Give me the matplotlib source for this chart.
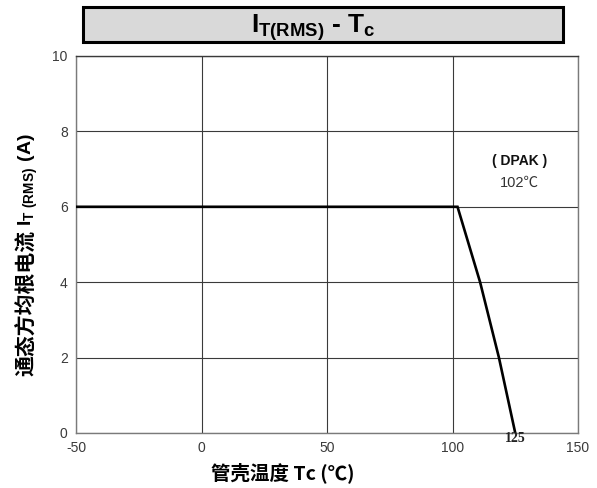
import matplotlib
matplotlib.use("Agg")
import matplotlib.pyplot as plt
from matplotlib.patches import Rectangle

plt.rcParams["mathtext.fontset"] = "custom"
plt.rcParams["mathtext.bf"] = "Liberation Sans:bold"
plt.rcParams["mathtext.rm"] = "Liberation Sans"
plt.rcParams["axes.unicode_minus"] = False
plt.rcParams["font.family"] = ["Liberation Sans", "Noto Sans CJK SC", "DejaVu Sans"]

# Derating curve: on-state RMS current vs case temperature
case_temp = [-50, 102, 111, 118.5, 125]
current_rms = [6, 6, 4, 2, 0]

x_ticks = [-50, 0, 50, 100, 150]
y_ticks = [0, 2, 4, 6, 8, 10]
package = "( DPAK )"
knee_label = "102℃"
end_label = "125"

W, H = 597, 488
fig = plt.figure(figsize=(W / 100, H / 100), dpi=100)
ax = fig.add_axes([76 / W, 1 - 433 / H, 502 / W, 377 / H])

ax.plot(case_temp, current_rms, color="black", lw=1.9, solid_joinstyle="miter", zorder=3)

ax.set_xlim(-50, 150)
ax.set_ylim(0, 10)
ax.set_xticks(x_ticks)
ax.set_yticks(y_ticks)
ax.grid(True, color="#3a3a3a", lw=0.8)
ax.tick_params(length=0, labelsize=10, labelcolor="#3a3a3a", pad=6)
for s in ax.spines.values():
    s.set_color("#7a7a7a")
    s.set_linewidth(1.0)
ax.spines["top"].set_color("#3a3a3a")

ax.text(125, 0.02, end_label, ha="center", va="top", fontsize=10,
        family="Liberation Serif", weight="bold", color="#222222")
ax.text(126.8, 7.22, package, ha="center", va="center", fontsize=10,
        weight="bold", color="#111111")
ax.text(126.8, 6.64, knee_label, ha="center", va="center", fontsize=10.5,
        color="#333333", family=["Liberation Sans", "Noto Sans CJK SC"])

# x-axis title
fig.text(283 / W, 1 - 473 / H, "管壳温度 Tc (℃)", ha="center", va="center",
         fontsize=14, weight="bold", family=["Noto Sans CJK SC"])

# y-axis title, built from a CJK part and a Latin part stacked upward
y_cjk = fig.text(27 / W, 1 - 376 / H, "通态方均根电流", rotation=90,
                 ha="center", va="bottom", fontsize=15, weight="bold",
                 family=["Noto Sans CJK SC"])
fig.canvas.draw()
bb = y_cjk.get_window_extent()
fig.text(28 / W, (bb.y1 + 4) / H, r"$\mathbf{I_{T\ (RMS)}\ (A)}$", rotation=90,
         ha="center", va="bottom", fontsize=14)

# Title box
fig.patches.append(Rectangle((83 / W, 1 - 42 / H), 480 / W, 35 / H,
                             transform=fig.transFigure, facecolor="#d9d9d9",
                             edgecolor="black", lw=2.2, zorder=1))
fig.text(313 / W, 1 - 33 / H, r"$\mathbf{I_{T(RMS)}}$ - $\mathbf{T_c}$",
         ha="center", va="baseline", fontsize=19, weight="bold", zorder=2)

fig.savefig("out.png", dpi=100)
